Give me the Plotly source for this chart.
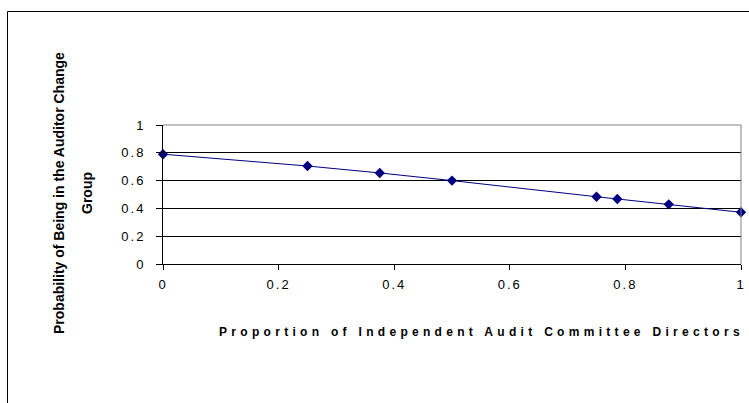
import plotly.graph_objects as go

proportion = [0.0, 0.25, 0.375, 0.5, 0.75, 0.786, 0.875, 1.0]
probability = [0.79, 0.705, 0.655, 0.60, 0.484, 0.468, 0.429, 0.372]

x_ticks = [0, 0.2, 0.4, 0.6, 0.8, 1]
y_ticks = [0, 0.2, 0.4, 0.6, 0.8, 1]

x_title = "Proportion of Independent Audit Committee Directors"
y_title_lines = ["Probability of Being in the Auditor Change", "Group"]

L, R, T, B = 163, 8, 125, 139
W, H = 749, 403
pw, ph = W - L - R, H - T - B

def px_x(p):
    return (p - L) / pw

def px_y(p):
    return (H - B - p) / ph

def spaced(v):
    return f'<span style="letter-spacing:2px">{v:g}</span>'

fig = go.Figure()
fig.add_trace(go.Scatter(
    x=proportion, y=probability, mode="lines+markers",
    line=dict(color="#000080", width=1),
    marker=dict(symbol="diamond", size=8, color="#000080"),
    cliponaxis=False, showlegend=False,
))

font = dict(family="Liberation Sans, Arial, sans-serif", size=13, color="black")

fig.update_layout(
    width=W, height=H,
    margin=dict(l=L, r=R, t=T, b=B),
    paper_bgcolor="white", plot_bgcolor="white",
    font=font,
    xaxis=dict(
        range=[0, 1], tickvals=x_ticks, ticktext=[spaced(v) for v in x_ticks],
        showgrid=False, zeroline=False,
        showline=True, linecolor="black", linewidth=1,
        ticks="outside", ticklen=5, tickcolor="black",
        ticklabelstandoff=3, automargin=False,
    ),
    yaxis=dict(
        range=[0, 1], tickvals=y_ticks, ticktext=[spaced(v) for v in y_ticks],
        showgrid=True, gridcolor="black", gridwidth=1, zeroline=False,
        showline=True, linecolor="black", linewidth=1,
        ticks="outside", ticklen=6, tickcolor="black",
        ticklabelstandoff=8, automargin=False,
    ),
)

# axis titles
fig.add_annotation(
    xref="paper", yref="paper", x=px_x(481), y=px_y(332),
    text=f'<span style="letter-spacing:4.3px"><b>{x_title}</b></span>',
    showarrow=False, font=dict(size=12), xanchor="center", yanchor="middle",
)
for line, cx in zip(y_title_lines, [59, 87]):
    fig.add_annotation(
        xref="paper", yref="paper", x=px_x(cx), y=px_y(193),
        text=f"<b>{line}</b>", textangle=-90,
        showarrow=False, font=dict(size=14), xanchor="center", yanchor="middle",
    )

# plot-area frame (top/right in gray)
fig.add_shape(type="line", xref="paper", yref="paper", x0=0, x1=1, y0=1, y1=1,
              line=dict(color="#808080", width=1))
fig.add_shape(type="line", xref="paper", yref="paper", x0=1, x1=1, y0=0, y1=1,
              line=dict(color="#808080", width=1))

# outer chart border
fig.add_shape(type="rect", xref="paper", yref="paper",
              x0=px_x(7.5), x1=px_x(W + 20), y0=px_y(H + 20), y1=px_y(11.5),
              line=dict(color="black", width=1), fillcolor="rgba(0,0,0,0)", layer="below")

fig.write_html("out.html", config={"displayModeBar": False},
               post_script="document.body.style.margin='0';document.body.style.overflow='hidden';")
